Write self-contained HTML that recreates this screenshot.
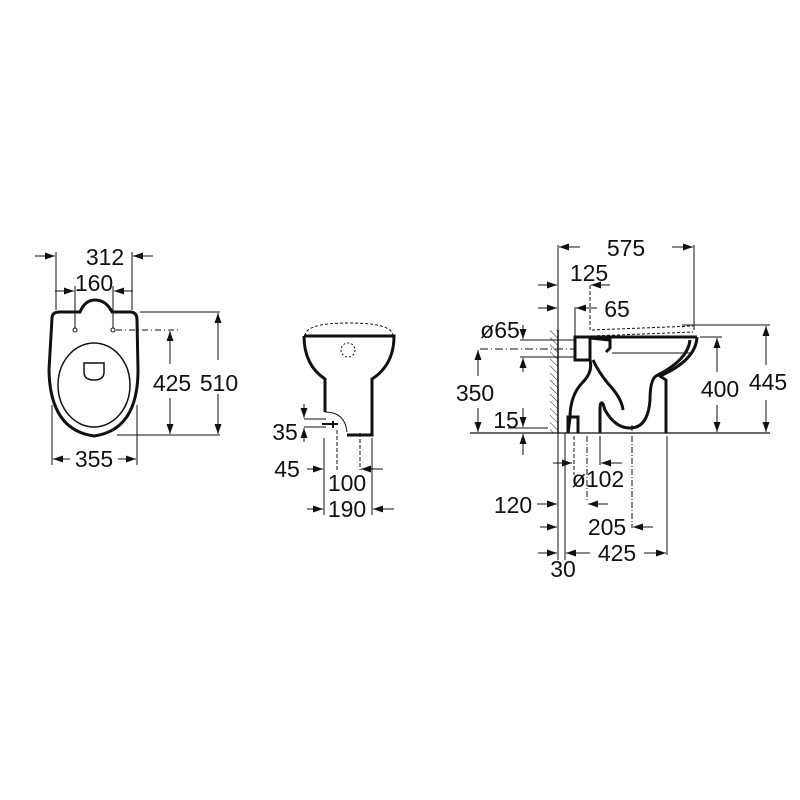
<!DOCTYPE html>
<html><head><meta charset="utf-8"><style>
html,body{margin:0;padding:0;background:#fff;}
svg{display:block;}
text{font-family:"Liberation Sans",sans-serif;font-size:23px;fill:#111;}
</style></head><body>
<svg width="800" height="800" viewBox="0 0 800 800" xmlns="http://www.w3.org/2000/svg">
<defs>
<marker id="a" viewBox="0 0 10 10" refX="10" refY="5" markerWidth="10" markerHeight="10" orient="auto-start-reverse" markerUnits="userSpaceOnUse"><path d="M0,1.5 L10,5 L0,8.5 z" fill="#111"/></marker>
<pattern id="h" width="5" height="5" patternUnits="userSpaceOnUse" patternTransform="rotate(-45)"><line x1="0" y1="0" x2="0" y2="5" stroke="#222" stroke-width="1"/></pattern>
</defs>
<g stroke="#111" fill="none" stroke-width="1">
<!-- LEFT VIEW -->
<path d="M52,318 Q52,312 60,312 L80,312 Q85,300 95,300 Q106,300 112,312 L130,312 Q137,312 137,320 L138,370 Q138,430 94,436 Q50,430 49,370 Z" stroke-width="3"/>
<ellipse cx="94" cy="385" rx="36" ry="42" stroke-width="1.5"/>
<path d="M84,363 L104,363 L104,372 Q104,380 94,380 Q84,380 84,372 Z" stroke-width="1.5"/>
<circle cx="75" cy="330" r="2"/><circle cx="113" cy="330" r="2"/>
<line x1="56" y1="252" x2="56" y2="310"/><line x1="132" y1="252" x2="132" y2="310"/>
<line x1="35" y1="256" x2="55" y2="256" marker-end="url(#a)"/><line x1="153" y1="256" x2="133" y2="256" marker-end="url(#a)"/>
<line x1="75" y1="286" x2="75" y2="328"/><line x1="113" y1="286" x2="113" y2="328"/>
<line x1="55" y1="291" x2="74" y2="291" marker-end="url(#a)"/><line x1="133" y1="291" x2="114" y2="291" marker-end="url(#a)"/>
<line x1="140" y1="312" x2="220" y2="312"/><line x1="117" y1="435" x2="220" y2="435"/>
<line x1="116" y1="330" x2="178" y2="330" stroke-dasharray="6,3,1,3"/>
<line x1="218" y1="360" x2="218" y2="313" marker-end="url(#a)"/><line x1="218" y1="394" x2="218" y2="434" marker-end="url(#a)"/>
<line x1="170" y1="364" x2="170" y2="331" marker-end="url(#a)"/><line x1="170" y1="398" x2="170" y2="434" marker-end="url(#a)"/>
<line x1="52" y1="405" x2="52" y2="465"/><line x1="137" y1="405" x2="137" y2="465"/>
<line x1="70" y1="459" x2="53" y2="459" marker-end="url(#a)"/><line x1="118" y1="459" x2="136" y2="459" marker-end="url(#a)"/>
<!-- MIDDLE VIEW -->
<path d="M305,336 Q305,323 349,323 Q393,323 393,336" stroke-dasharray="3,2"/>
<path d="M304,336 L394,336 Q394,365 372,379 L372,435 L347,435" stroke-width="3"/>
<path d="M304,336 Q304,365 325,379 L325,412" stroke-width="3"/>
<path d="M325,412 Q345,412 347,432" stroke-width="1"/>
<circle cx="348" cy="350" r="7" stroke-dasharray="2,2"/>
<path d="M322,424 L338,424 M333,421 L333,428" stroke-width="2"/>
<line x1="304" y1="419" x2="326" y2="419"/><line x1="304" y1="427" x2="326" y2="427"/>
<line x1="304" y1="404" x2="304" y2="418" marker-end="url(#a)"/><line x1="304" y1="442" x2="304" y2="428" marker-end="url(#a)"/>
<line x1="324" y1="438" x2="324" y2="515"/><line x1="372" y1="438" x2="372" y2="515"/>
<line x1="337" y1="430" x2="337" y2="470" stroke-dasharray="4,2"/><line x1="360" y1="433" x2="360" y2="470" stroke-dasharray="4,2"/>
<line x1="307" y1="469" x2="323" y2="469" marker-end="url(#a)"/><line x1="383" y1="469" x2="361" y2="469" marker-end="url(#a)"/>
<line x1="307" y1="509" x2="323" y2="509" marker-end="url(#a)"/><line x1="394" y1="509" x2="373" y2="509" marker-end="url(#a)"/>
<!-- RIGHT VIEW -->
<rect x="550" y="330" width="8" height="103" fill="url(#h)" stroke="none"/>
<line x1="558" y1="330" x2="558" y2="433" stroke-width="1.5"/>
<line x1="470" y1="433" x2="770" y2="433" stroke-width="1.2"/>
<path d="M592,330 L693,326" stroke-dasharray="3,2"/><path d="M592,336 L693,332" stroke-dasharray="3,2"/>
<rect x="575" y="337" width="15" height="23" stroke-width="3"/>
<path d="M590,338 L610,340 L610,348 L606,352" stroke-width="3"/>
<path d="M590,337 L697,337" stroke-width="3"/>
<path d="M697,337 Q696,360 660,376 L666,380 L666,433" stroke-width="3"/>
<path d="M690,340 Q688,360 656,376 Q650,380 650,400 Q648,428 630,428 Q615,428 605,410 L603,404 Q600,400 600,410 L600,433" stroke-width="3"/>
<path d="M590,360 Q593,372 583,382 Q570,395 570,418 L568,433" stroke-width="3"/>
<path d="M568,433 L568,417 L578,417 L578,433" stroke-width="3"/>
<path d="M593,360 Q600,375 612,388 Q622,400 623,410" stroke-width="3"/>
<line x1="612" y1="353" x2="690" y2="353"/>
<line x1="480" y1="349" x2="575" y2="349" stroke-dasharray="8,3,1,3"/>
<line x1="520" y1="340" x2="575" y2="340"/><line x1="520" y1="357" x2="575" y2="357"/>
<line x1="523" y1="325" x2="523" y2="339" marker-end="url(#a)"/><line x1="523" y1="372" x2="523" y2="358" marker-end="url(#a)"/>
<line x1="478" y1="376" x2="478" y2="350" marker-end="url(#a)"/><line x1="478" y1="408" x2="478" y2="432" marker-end="url(#a)"/>
<line x1="508" y1="428" x2="548" y2="428"/>
<line x1="523" y1="408" x2="523" y2="427" marker-end="url(#a)"/><line x1="523" y1="455" x2="523" y2="434" marker-end="url(#a)"/>
<line x1="558" y1="245" x2="558" y2="330"/><line x1="694" y1="245" x2="694" y2="330"/>
<line x1="580" y1="247" x2="559" y2="247" marker-end="url(#a)"/><line x1="672" y1="247" x2="693" y2="247" marker-end="url(#a)"/>
<line x1="538" y1="285" x2="557" y2="285" marker-end="url(#a)"/><line x1="610" y1="285" x2="591" y2="285" marker-end="url(#a)"/>
<line x1="590" y1="285" x2="590" y2="330" stroke-dasharray="4,2"/>
<line x1="575" y1="307" x2="575" y2="336"/>
<line x1="538" y1="308" x2="557" y2="308" marker-end="url(#a)"/><line x1="597" y1="308" x2="576" y2="308" marker-end="url(#a)"/>
<line x1="682" y1="325" x2="770" y2="325"/><line x1="700" y1="337" x2="722" y2="337"/>
<line x1="717" y1="372" x2="717" y2="338" marker-end="url(#a)"/><line x1="717" y1="405" x2="717" y2="432" marker-end="url(#a)"/>
<line x1="766" y1="365" x2="766" y2="326" marker-end="url(#a)"/><line x1="766" y1="400" x2="766" y2="432" marker-end="url(#a)"/>
<line x1="558" y1="433" x2="558" y2="560"/><line x1="565" y1="433" x2="565" y2="560"/>
<line x1="574" y1="436" x2="574" y2="475" stroke-dasharray="4,2"/><line x1="587" y1="436" x2="587" y2="500" stroke-dasharray="6,2,1,2"/>
<line x1="600" y1="436" x2="600" y2="465"/><line x1="632" y1="425" x2="632" y2="528" stroke-dasharray="6,2,1,2"/>
<line x1="667" y1="436" x2="667" y2="555"/>
<line x1="553" y1="463" x2="572" y2="463" marker-end="url(#a)"/><line x1="622" y1="463" x2="601" y2="463" marker-end="url(#a)"/>
<line x1="537" y1="504" x2="557" y2="504" marker-end="url(#a)"/><line x1="608" y1="504" x2="588" y2="504" marker-end="url(#a)"/>
<line x1="540" y1="527" x2="557" y2="527" marker-end="url(#a)"/><line x1="653" y1="527" x2="633" y2="527" marker-end="url(#a)"/>
<line x1="538" y1="553" x2="557" y2="553" marker-end="url(#a)"/><line x1="590" y1="553" x2="566" y2="553" marker-end="url(#a)"/>
<line x1="644" y1="553" x2="666" y2="553" marker-end="url(#a)"/>
</g>
<g>
<text x="105" y="265" text-anchor="middle">312</text>
<text x="94" y="291" text-anchor="middle">160</text>
<text x="172" y="391" text-anchor="middle">425</text>
<text x="219" y="391" text-anchor="middle">510</text>
<text x="94" y="467" text-anchor="middle">355</text>
<text x="285" y="440" text-anchor="middle">35</text>
<text x="287" y="477" text-anchor="middle">45</text>
<text x="347" y="491" text-anchor="middle">100</text>
<text x="347" y="517" text-anchor="middle">190</text>
<text x="626" y="256" text-anchor="middle">575</text>
<text x="589" y="281" text-anchor="middle">125</text>
<text x="617" y="317" text-anchor="middle">65</text>
<text x="500" y="338" text-anchor="middle">ø65</text>
<text x="475" y="401" text-anchor="middle">350</text>
<text x="506" y="428" text-anchor="middle">15</text>
<text x="720" y="397" text-anchor="middle">400</text>
<text x="768" y="390" text-anchor="middle">445</text>
<text x="598" y="487" text-anchor="middle">ø102</text>
<text x="513" y="513" text-anchor="middle">120</text>
<text x="607" y="535" text-anchor="middle">205</text>
<text x="617" y="561" text-anchor="middle">425</text>
<text x="563" y="577" text-anchor="middle">30</text>
</g>
</svg>
</body></html>
